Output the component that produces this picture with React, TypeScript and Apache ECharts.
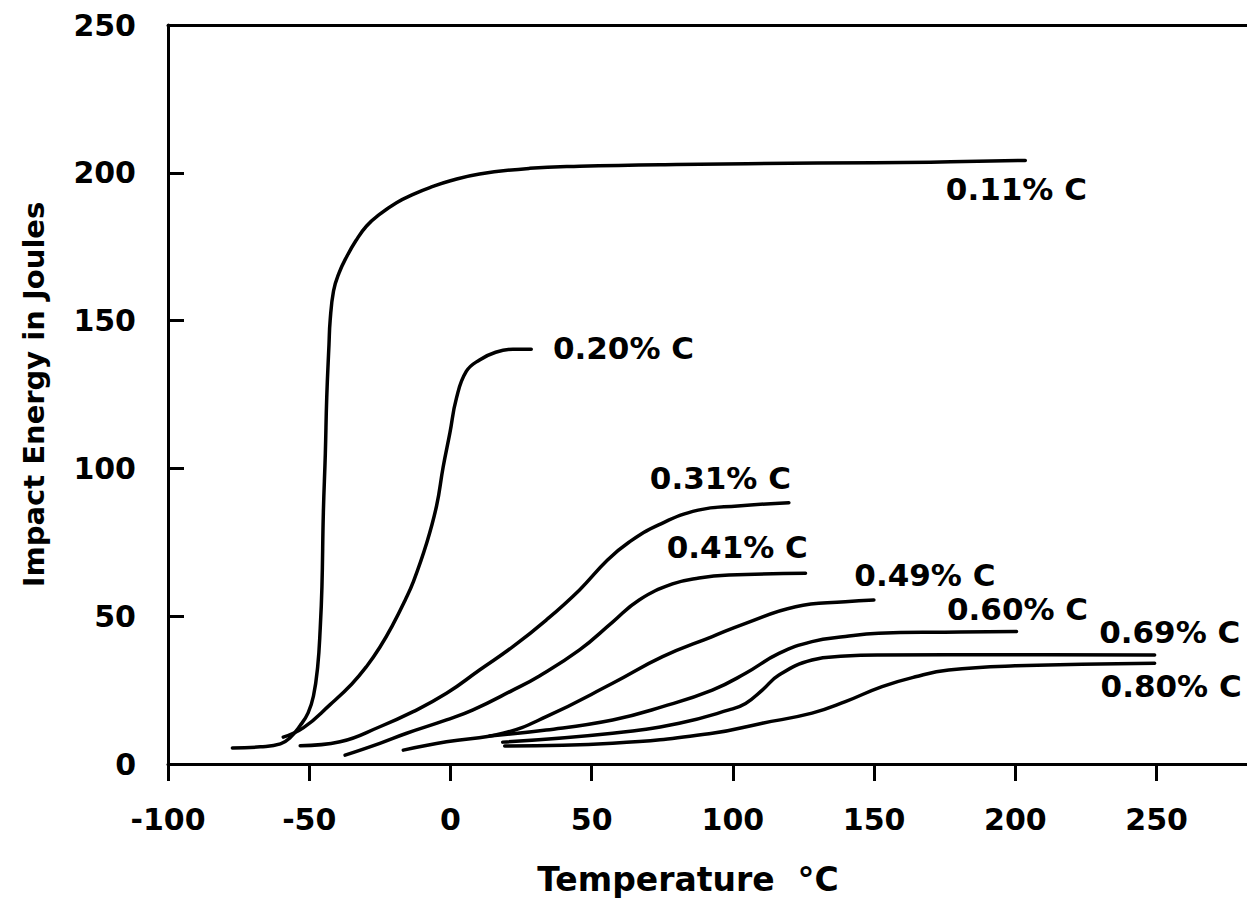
import React, { useEffect, useRef } from "react";
import * as echarts from "echarts";

// Temperature (°C) vs impact energy (J) for each carbon content
const c011: number[][] = [[-77.2,5.4],[-67.3,5.8],[-60.2,6.8],[-56.7,9],[-53.2,13],[-50.4,17.3],[-48.5,23],[-47,33],[-46.1,46],[-45.5,60],[-45,85],[-44.3,105],[-43.8,124],[-43,142],[-42.6,150],[-41.4,160],[-39.5,166],[-36.7,171.7],[-33.5,177],[-29.7,182],[-25,186],[-19.1,189.9],[-13,192.8],[-7.3,195],[0,197.3],[10.3,199.6],[28,201.5],[45.7,202.2],[80,202.8],[130,203.3],[170,203.6],[203.5,204.2]];
const c020: number[][] = [[-59.2,9.1],[-52,12.3],[-42.6,20.1],[-35,27],[-29.7,33],[-25,39.5],[-20.3,47.3],[-16,55.5],[-13.2,61.5],[-8.5,74.5],[-4.9,87.4],[-2.6,100.4],[-0.2,112],[2.1,123.7],[5.6,132.8],[10.3,136.7],[16,139.3],[22.1,140.3],[28.6,140.3]];
const c031: number[][] = [[-53.2,6.2],[-39.1,7.5],[-25,12.6],[-13.2,17.7],[-1.4,23.9],[10.3,31.8],[22.1,39.7],[33.9,48.7],[45.7,58.9],[55.6,69],[63.3,75.1],[73.7,80.9],[87.7,85.9],[101.7,87.3],[119.8,88.4]];
const c041: number[][] = [[-37.3,3.0],[-25,7.0],[-15.5,10.4],[-1.4,14.9],[8,18.3],[22.1,25],[31.5,29.8],[45.7,38.6],[57.4,48],[66.8,55.5],[78.6,60.9],[88,62.9],[98.6,63.9],[125.7,64.5]];
const c049: number[][] = [[-16.7,4.7],[-1.4,7.5],[18.6,10.4],[33.9,16],[57.4,27.3],[75.1,36.3],[92.7,43.1],[104.5,47.6],[122.2,53.2],[139.8,54.9],[149.9,55.5]];
const c060: number[][] = [[13.9,9.5],[33.9,11.5],[57.4,14.9],[75.1,19.4],[92.7,25],[104.5,30.7],[116.3,37.4],[128,41.4],[139.8,43.1],[151.6,44.2],[175,44.6],[200.4,44.8]];
const c069: number[][] = [[18.5,7.4],[57.4,10.4],[81,13.8],[98.6,18.3],[104.5,20.5],[110.4,25],[116.3,30.1],[128,35.2],[139.8,36.5],[151.6,36.9],[200,37],[249.3,36.9]];
const c080: number[][] = [[19.2,6.1],[57.4,7.0],[92.7,10.4],[110.4,13.8],[128,17.2],[139.8,21.1],[152.8,26.2],[164.6,29.5],[176.4,31.8],[199.9,33.2],[249.3,34.1]];

const seriesNames = ["0.11% C", "0.20% C", "0.31% C", "0.41% C", "0.49% C", "0.60% C", "0.69% C", "0.80% C"];
const seriesData = [c011, c020, c031, c041, c049, c060, c069, c080];
// label anchor (left edge, vertical middle) in data coordinates
const labelAnchors: (number | string)[][] = [
  [175.2, 194.5, "0.11% C"],
  [36.1, 140.7, "0.20% C"],
  [70.4, 96.8, "0.31% C"],
  [76.4, 73.4, "0.41% C"],
  [142.8, 63.9, "0.49% C"],
  [175.6, 52.4, "0.60% C"],
  [229.5, 44.7, "0.69% C"],
  [230.0, 26.4, "0.80% C"],
];

const FONT = "DejaVu Sans";

export default function App() {
  const ref = useRef<HTMLDivElement>(null);
  useEffect(() => {
    if (!ref.current) return;
    const chart = echarts.init(ref.current, null, { renderer: "svg" });
    const lineSeries = seriesData.map((d, i) => ({
      name: seriesNames[i],
      type: "line",
      data: d,
      showSymbol: false,
      smooth: 0.45,
      lineStyle: { color: "#000", width: 3.5, cap: "round", join: "round" },
      itemStyle: { color: "#000" },
      z: 3,
    }));
    chart.setOption({
      animation: false,
      backgroundColor: "#fff",
      grid: { left: 168, right: -4, top: 25, bottom: 139 },
      xAxis: [
        {
          type: "value",
          min: -100,
          max: 282,
          interval: 50,
          name: "Temperature  {s|°}C",
          nameLocation: "middle",
          nameGap: 98,
          nameTextStyle: {
            fontFamily: FONT,
            fontWeight: "bold",
            fontSize: 33,
            color: "#000",
            padding: [0, 39, 0, 0],
            rich: { s: { fontFamily: FONT, fontWeight: "bold", fontSize: 34, color: "#000" } },
          },
          axisLine: { show: true, onZero: false, lineStyle: { color: "#000", width: 3 } },
          axisTick: { show: true, inside: false, length: 17, lineStyle: { color: "#000", width: 3 } },
          axisLabel: {
            showMaxLabel: false,
            margin: 40,
            fontFamily: FONT,
            fontWeight: "bold",
            fontSize: 30,
            color: "#000",
          },
          splitLine: { show: false },
        },
        {
          type: "value",
          position: "top",
          min: -100,
          max: 282,
          axisLine: { show: true, onZero: false, lineStyle: { color: "#000", width: 3 } },
          axisTick: { show: false },
          axisLabel: { show: false },
          splitLine: { show: false },
        },
      ],
      yAxis: {
        type: "value",
        min: 0,
        max: 250,
        interval: 50,
        name: "Impact Energy in Joules",
        nameLocation: "middle",
        nameGap: 120,
        nameTextStyle: { fontFamily: FONT, fontWeight: "bold", fontSize: 29, color: "#000" },
        axisLine: { show: true, onZero: false, lineStyle: { color: "#000", width: 3 } },
        axisTick: { show: true, inside: true, length: 16, lineStyle: { color: "#000", width: 3 } },
        axisLabel: { margin: 32, fontFamily: FONT, fontWeight: "bold", fontSize: 30, color: "#000" },
        splitLine: { show: false },
      },
      series: [
        ...lineSeries,
        {
          type: "scatter",
          data: labelAnchors,
          symbolSize: 1,
          itemStyle: { color: "rgba(0,0,0,0)", opacity: 1 },
          label: {
            show: true,
            position: "right",
            distance: 0,
            formatter: (p: any) => p.value[2],
            fontFamily: FONT,
            fontWeight: "bold",
            fontSize: 31,
            color: "#000",
            opacity: 1,
            verticalAlign: "middle",
          },
          z: 4,
        },
      ],
    });
    return () => chart.dispose();
  }, []);
  return (
    <div
      ref={ref}
      style={{ position: "fixed", left: 0, top: 0, width: 1247, height: 903, background: "#fff" }}
    />
  );
}
